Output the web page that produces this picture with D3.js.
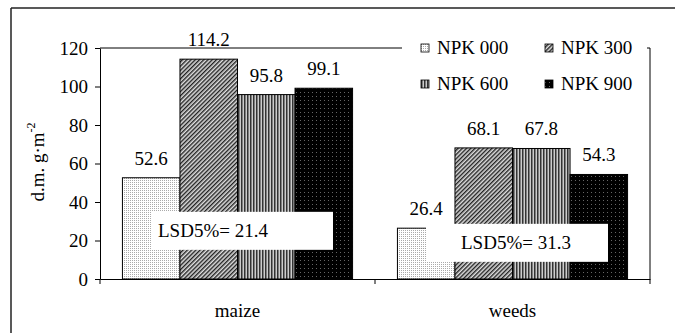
<!DOCTYPE html>
<html>
<head>
<meta charset="utf-8">
<script src="https://cdn.jsdelivr.net/npm/d3@7"></script>
<style>
  body { margin: 0; background: #fff; }
</style>
</head>
<body>
<div class="chart"></div>
<script>
// data
var categories = ["maize", "weeds"];
var series = ["NPK 000", "NPK 300", "NPK 600", "NPK 900"];
var maizeValues = [52.6, 114.2, 95.8, 99.1];
var weedsValues = [26.4, 68.1, 67.8, 54.3];
var lsdValues = [21.4, 31.3];
var yTicks = [0, 20, 40, 60, 80, 100, 120];

var svgWidth = 675;
var svgHeight = 333;
var FONT = "Times New Roman";
var FSIZE = 19;

var margin = { top: 48, right: 25, bottom: 54, left: 100 };
var width = svgWidth - margin.left - margin.right;
var height = svgHeight - margin.top - margin.bottom;

var svg = d3.select(".chart")
  .append("svg")
  .attr("width", svgWidth)
  .attr("height", svgHeight)
  .attr("font-family", FONT)
  .attr("font-size", FSIZE);

// fill patterns, one per series
var defs = svg.append("defs");

var p0 = defs.append("pattern").attr("id", "pat0").attr("width", 2).attr("height", 2).attr("patternUnits", "userSpaceOnUse");
p0.append("rect").attr("width", 2).attr("height", 2).attr("fill", "#fff");
p0.append("rect").attr("width", 1).attr("height", 1).attr("fill", "#aaa");

var p1 = defs.append("pattern").attr("id", "pat1").attr("width", 3).attr("height", 3).attr("patternUnits", "userSpaceOnUse")
  .attr("patternTransform", "rotate(45)");
p1.append("rect").attr("width", 3).attr("height", 3).attr("fill", "#ddd");
p1.append("rect").attr("width", 1.4).attr("height", 3).attr("fill", "#222");

var p2 = defs.append("pattern").attr("id", "pat2").attr("width", 3).attr("height", 3).attr("patternUnits", "userSpaceOnUse");
p2.append("rect").attr("width", 3).attr("height", 3).attr("fill", "#ccc");
p2.append("rect").attr("width", 1.5).attr("height", 3).attr("fill", "#333");

var p3 = defs.append("pattern").attr("id", "pat3").attr("width", 4).attr("height", 4).attr("patternUnits", "userSpaceOnUse");
p3.append("rect").attr("width", 4).attr("height", 4).attr("fill", "#000");
p3.append("rect").attr("width", 1).attr("height", 1).attr("fill", "#666");

var fills = ["url(#pat0)", "url(#pat1)", "url(#pat2)", "url(#pat3)"];

// outer frame (only left and top edges are in the picture)
svg.append("line").attr("x1", 11).attr("y1", 8).attr("x2", 11).attr("y2", svgHeight)
  .attr("stroke", "#222").attr("stroke-width", 1.5);
svg.append("line").attr("x1", 11).attr("y1", 8).attr("x2", svgWidth).attr("y2", 8)
  .attr("stroke", "#222").attr("stroke-width", 1.5);

var chartGroup = svg.append("g")
  .attr("transform", `translate(${margin.left}, ${margin.top})`);

var x0 = d3.scaleBand().domain(categories).range([0, width]).padding(0);
var x1 = d3.scaleBand().domain(series).range([0, x0.bandwidth()]).paddingInner(0).paddingOuter(0.39);
var yScale = d3.scaleLinear().domain([0, 120]).range([height, 0]);

// plot area top and right border
chartGroup.append("path")
  .attr("d", `M0,0H${width}V${height}`)
  .attr("fill", "none").attr("stroke", "#000").attr("stroke-width", 1);

var leftAxis = d3.axisLeft(yScale).tickValues(yTicks).tickSize(5).tickSizeOuter(0).tickPadding(7);
var yAxisG = chartGroup.append("g").call(leftAxis);

var bottomAxis = d3.axisBottom(x0).tickSize(0).tickSizeOuter(0).tickFormat("").tickPadding(10);
var xAxisG = chartGroup.append("g")
  .attr("transform", `translate(0, ${height})`)
  .call(bottomAxis);

// category boundary ticks
var bounds = [0].concat(categories.map(c => x0(c) + x0.bandwidth()));
xAxisG.selectAll(".bound").data(bounds).enter().append("line")
  .attr("class", "bound")
  .attr("x1", d => d).attr("x2", d => d)
  .attr("y1", 0).attr("y2", 5)
  .attr("stroke", "#000");

[yAxisG, xAxisG].forEach(function(g) {
  g.attr("font-family", FONT).attr("font-size", FSIZE);
  g.selectAll("path, line").attr("stroke", "#000");
  g.selectAll("text").attr("fill", "#000");
});

xAxisG.selectAll(".catlabel").data(categories).enter().append("text")
  .attr("class", "catlabel")
  .attr("x", d => x0(d) + x0.bandwidth() / 2)
  .attr("y", 38)
  .attr("text-anchor", "middle")
  .attr("fill", "#000")
  .text(d => d);

// bars
var rows = categories.map(function(c, i) {
  var vals = i === 0 ? maizeValues : weedsValues;
  return series.map(function(s, j) { return { cat: c, ser: s, idx: j, value: vals[j] }; });
});

var groups = chartGroup.selectAll("g.cat").data(rows).enter().append("g")
  .attr("class", "cat")
  .attr("transform", (d, i) => `translate(${x0(categories[i])}, 0)`);

groups.selectAll("rect").data(d => d).enter().append("rect")
  .attr("x", d => x1(d.ser))
  .attr("y", d => yScale(d.value))
  .attr("width", x1.bandwidth())
  .attr("height", d => height - yScale(d.value))
  .attr("fill", d => fills[d.idx])
  .attr("stroke", "#000")
  .attr("stroke-width", 1);

groups.selectAll("text.val").data(d => d).enter().append("text")
  .attr("class", "val")
  .attr("x", d => x1(d.ser) + x1.bandwidth() / 2)
  .attr("y", d => yScale(d.value) - 13)
  .attr("text-anchor", "middle")
  .text(d => d.value.toFixed(1));

// LSD boxes
groups.each(function(d, i) {
  var g = d3.select(this);
  var by = yScale(24.5) - 20 + i * 12;
  g.append("rect")
    .attr("x", 51).attr("y", by)
    .attr("width", 182).attr("height", 38)
    .attr("fill", "#fff");
  g.append("text")
    .attr("x", 51 + (i === 0 ? 7 : 35)).attr("y", by + 25)
    .text("LSD5%= " + lsdValues[i]);
});

// legend
var legend = chartGroup.append("g").attr("transform", `translate(${302}, ${-10})`);
legend.append("rect").attr("x", 0).attr("y", 0).attr("width", 245).attr("height", 65).attr("fill", "#fff");

var items = legend.selectAll("g.item").data(series).enter().append("g")
  .attr("class", "item")
  .attr("transform", (d, i) => `translate(${19 + (i % 2) * 124}, ${(Math.floor(i / 2)) * 36})`);

items.append("rect")
  .attr("x", 0).attr("y", 6)
  .attr("width", 8).attr("height", 8)
  .attr("fill", (d, i) => fills[i])
  .attr("stroke", "#000")
  .attr("stroke-width", 0.8);

items.append("text")
  .attr("x", 16).attr("y", 16)
  .text(d => d);

// y axis title
var yTitle = svg.append("text")
  .attr("transform", `translate(44, 162) rotate(-90)`)
  .attr("text-anchor", "middle");
yTitle.append("tspan").text("d.m. g\u00b7m");
yTitle.append("tspan").attr("dy", -9).attr("font-size", 12).text("-2");
</script>
</body>
</html>
